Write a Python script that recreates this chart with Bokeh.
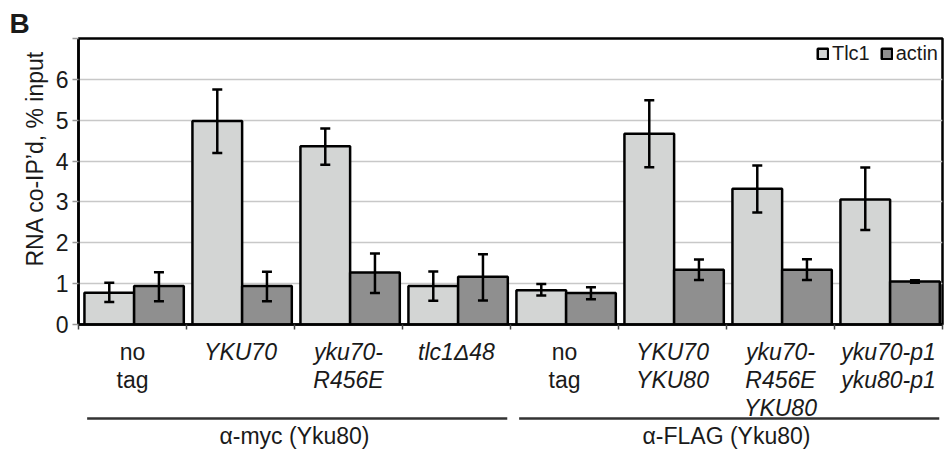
import numpy as np
from bokeh.plotting import figure
from bokeh.layouts import column
from bokeh.models import (ColumnDataSource, Range1d, FixedTicker, Whisker, TeeHead,
                          Legend, LegendItem, Title)
from bokeh.core.properties import value
from bokeh.embed import file_html
from bokeh.resources import INLINE

# ---------------- data ----------------
categories = ["no\ntag", "YKU70", "yku70-\nR456E", "tlc1\u039448",
              "no\ntag", "YKU70\nYKU80", "yku70-\nR456E\nYKU80", "yku70-p1\nyku80-p1"]
italic = [False, True, True, True, False, True, True, True]

tlc1 = [0.78, 4.98, 4.36, 0.94, 0.84, 4.67, 3.32, 3.06]
tlc1_lo = [0.55, 4.20, 3.91, 0.58, 0.71, 3.85, 2.74, 2.31]
tlc1_hi = [1.02, 5.75, 4.80, 1.30, 0.99, 5.49, 3.89, 3.84]

actin = [0.94, 0.94, 1.27, 1.17, 0.77, 1.34, 1.34, 1.05]
actin_lo = [0.57, 0.57, 0.77, 0.59, 0.62, 1.09, 1.09, 1.02]
actin_hi = [1.28, 1.29, 1.74, 1.72, 0.91, 1.59, 1.60, 1.08]

groups = ["\u03b1-myc (Yku80)", "\u03b1-FLAG (Yku80)"]
group_sizes = [4, 4]
y_ticks = [0, 1, 2, 3, 4, 5, 6, 7]
series_names = ["Tlc1", "actin"]
y_title = "RNA co-IP\u2019d, % input"
panel_letter = "B"

# ---------------- style ----------------
FONT = "Liberation Sans"
TXT = "#1a1a1a"
C_TLC1 = "#d3d5d4"
C_ACTIN = "#8f8f8f"
BAR_W = 0.46
W = 944
LEFT = 78
TOP = 38
FRAME_H = 286
BOT_BORDER = 14
H_TOP = TOP + FRAME_H + BOT_BORDER
H_BOT = 452 - H_TOP

n = len(categories)
centers = np.arange(n) + 0.5
x_tlc1 = centers - BAR_W / 2 + 0.015
x_actin = centers + BAR_W / 2 + 0.015

# ---------------- main chart ----------------
p = figure(width=W, height=H_TOP, x_range=Range1d(0, n), y_range=Range1d(0, 7),
           output_backend="svg", toolbar_location=None, title=None,
           min_border_left=LEFT, min_border_right=2, min_border_top=TOP,
           min_border_bottom=BOT_BORDER)
p.background_fill_color = "white"
p.border_fill_color = "white"
p.outline_line_color = "black"
p.outline_line_width = 2.5

p.xgrid.visible = False
p.ygrid.grid_line_color = "#c8c8c8"
p.ygrid.grid_line_width = 1.5
p.ygrid.ticker = FixedTicker(ticks=y_ticks[:-1])

ya = p.yaxis[0]
ya.ticker = FixedTicker(ticks=y_ticks)
ya.major_label_overrides = {7: ""}
ya.major_label_text_font = FONT
ya.major_label_text_font_size = "23px"
ya.major_label_text_color = TXT
ya.major_label_standoff = 4
ya.axis_line_color = "black"
ya.axis_line_width = 2.5
ya.major_tick_out = 6
ya.major_tick_in = 0
ya.major_tick_line_color = "#9a9a9a"
ya.major_tick_line_width = 1.5
ya.minor_tick_line_color = None

xa = p.xaxis[0]
xa.ticker = FixedTicker(ticks=list(range(n + 1)))
xa.major_label_text_font_size = "0px"
xa.major_label_standoff = 0
xa.major_label_overrides = {i: "" for i in range(n + 1)}
xa.axis_line_color = "black"
xa.axis_line_width = 2.5
xa.major_tick_out = 5
xa.major_tick_in = 0
xa.major_tick_line_color = "#444444"
xa.major_tick_line_width = 1.5
xa.minor_tick_line_color = None

r1 = p.vbar(x=x_tlc1, top=tlc1, bottom=0, width=BAR_W, fill_color=C_TLC1,
            line_color="black", line_width=2.5)
r2 = p.vbar(x=x_actin, top=actin, bottom=0, width=BAR_W, fill_color=C_ACTIN,
            line_color="black", line_width=2.5)

err_src = ColumnDataSource(dict(x=list(x_tlc1) + list(x_actin),
                                lo=tlc1_lo + actin_lo, hi=tlc1_hi + actin_hi))
whisk = Whisker(base="x", upper="hi", lower="lo", source=err_src, dimension="height",
                line_color="black", line_width=2.5, level="overlay",
                upper_head=TeeHead(size=10, line_width=2.5, line_color="black"),
                lower_head=TeeHead(size=10, line_width=2.5, line_color="black"))
p.add_layout(whisk)

legend = Legend(items=[LegendItem(label=series_names[0], renderers=[r1]),
                       LegendItem(label=series_names[1], renderers=[r2])],
                location="top_right", orientation="horizontal",
                label_text_font=FONT, label_text_font_size="20px", label_text_color=TXT,
                glyph_width=13, glyph_height=13, spacing=10, label_standoff=3,
                padding=4, margin=0, border_line_alpha=0, background_fill_alpha=0)
p.add_layout(legend)

# y-axis title (left side panel) and panel letter (above)
p.add_layout(Title(text=y_title, align="right", offset=12, standoff=10,
                   text_font=FONT, text_font_size="23px", text_font_style="normal",
                   text_color=TXT), "left")
p.add_layout(Title(text=panel_letter, align="left", offset=-(LEFT - 9), standoff=0,
                   text_font=FONT, text_font_size="28px", text_font_style="bold",
                   text_color=TXT), "above")

# ---------------- category / group labels below ----------------
q = figure(width=W, height=H_BOT, x_range=p.x_range, y_range=Range1d(-H_BOT, 0),
           output_backend="svg", toolbar_location=None, title=None,
           x_axis_location=None, y_axis_location=None,
           min_border_left=LEFT, min_border_right=2, min_border_top=0, min_border_bottom=0)
q.outline_line_color = None
q.background_fill_color = "white"
q.border_fill_color = "white"
q.grid.visible = False

cat_src = ColumnDataSource(dict(x=centers, y=[0] * n, t=categories,
                                style=["italic" if it else "normal" for it in italic]))
q.text(x="x", y="y", text="t", source=cat_src, text_align="center", text_baseline="top",
       text_font=value(FONT), text_font_size=value("23px"), text_font_style="style",
       text_color=TXT, text_line_height=1.08)

starts = np.cumsum([0] + group_sizes[:-1])
ends = np.cumsum(group_sizes)
grp_src = ColumnDataSource(dict(x0=starts + 0.08, x1=ends - 0.03, y=[-80] * len(groups),
                                xc=(starts + ends) / 2, yl=[-84] * len(groups), t=groups))
q.segment(x0="x0", y0="y", x1="x1", y1="y", source=grp_src,
          line_color="#333333", line_width=2.5)
q.text(x="xc", y="yl", text="t", source=grp_src, text_align="center",
       text_baseline="top", text_font=value(FONT), text_font_size=value("23px"),
       text_color=TXT)

layout = column(p, q, spacing=0)
open("out.html", "w").write(file_html(layout, INLINE))
